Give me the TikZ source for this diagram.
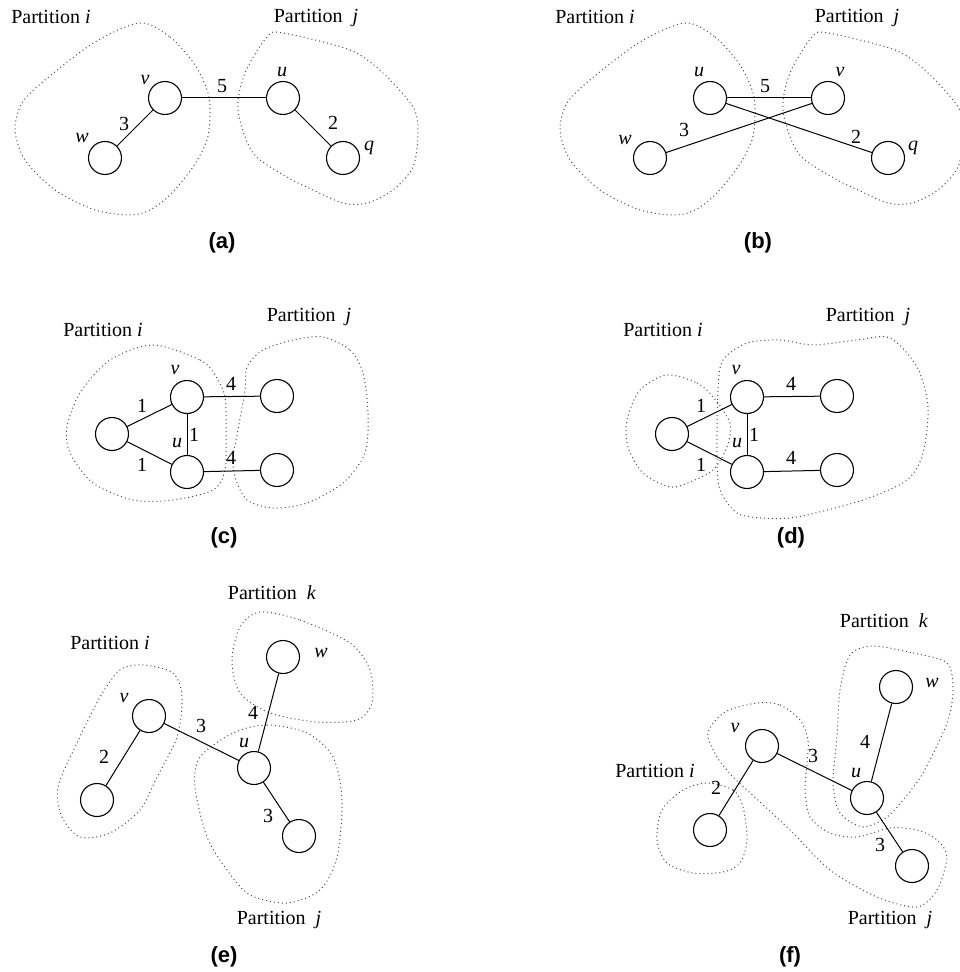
\documentclass[tikz,border=0pt]{standalone}
\usepackage{fontspec}
\setmainfont{Liberation Serif}
\newfontfamily\capfont{Liberation Sans}

\begin{document}
\begin{tikzpicture}[x=0.5pt,y=-0.5pt,
    vtx/.style={circle,draw,line width=0.55pt,minimum size=16.5pt,inner sep=0pt},
    lnk/.style={line width=0.5pt},
    blob/.style={draw=black!70,line width=0.5pt,dash pattern=on 0.5pt off 1.5pt},
    lbl/.style={font=\itshape,inner sep=0pt},
    wt/.style={inner sep=0pt},
    subcap/.style={font=\capfont\bfseries\fontsize{11}{13}\selectfont}]
  \useasboundingbox (0,0) rectangle (959,972);

  % (a)
  \draw[blob] plot[smooth cycle] coordinates {(140,23) (170,37) (195,65) (208,93) (210,115) (207,140) (193,167) (170,195) (150,210) (130,215) (95,210) (55,190) (25,160) (15,130) (22,103) (45,80) (95,42)};
  \draw[blob] plot[smooth cycle] coordinates {(283,33) (350,50) (383,73) (413,107) (418,133) (413,167) (393,190) (367,203) (343,203) (313,190) (287,177) (253,153) (238,110) (245,73) (267,37)};
  \node[vtx] (aV) at (165,98) {};
  \node[vtx] (aW) at (105,158) {};
  \node[vtx] (aU) at (283,98) {};
  \node[vtx] (aQ) at (343,158) {};
  \draw[lnk] (aV) -- (aU);
  \draw[lnk] (aV) -- (aW);
  \draw[lnk] (aU) -- (aQ);
  \node[lbl] (aVl) at (145,80) {v};
  \node[lbl] (aWl) at (82,138) {w};
  \node[lbl] (aUl) at (282,72) {u};
  \node[lbl] (aQl) at (369,148) {q};
  \node[wt] (aVU) at (222,86) {5};
  \node[wt] (aVW) at (124,124) {3};
  \node[wt] (aUQ) at (333,123) {2};
  \node (aPi) at (51,17) {Partition \textit{i}};
  \node (aPj) at (316,18) {Partition~~\textit{j}};
  \node[subcap] (aCap) at (222,243) {(a)};

  % (b)
  \begin{scope}[shift={(545,0)}]
    \draw[blob] plot[smooth cycle] coordinates {(140,23) (170,37) (195,65) (208,93) (210,115) (207,140) (193,167) (170,195) (150,210) (130,215) (95,210) (55,190) (25,160) (15,130) (22,103) (45,80) (95,42)};
    \draw[blob] plot[smooth cycle] coordinates {(283,33) (350,50) (383,73) (413,107) (418,133) (413,167) (393,190) (367,203) (343,203) (313,190) (287,177) (253,153) (238,110) (245,73) (267,37)};
  \end{scope}
  \node[vtx] (bU) at (710,98) {};
  \node[vtx] (bV) at (828,98) {};
  \node[vtx] (bW) at (650,158) {};
  \node[vtx] (bQ) at (888,158) {};
  \draw[lnk] (bU) -- (bV);
  \draw[lnk] (bW) -- (bV);
  \draw[lnk] (bU) -- (bQ);
  \node[lbl] (bUl) at (699,72) {u};
  \node[lbl] (bVl) at (840,72) {v};
  \node[lbl] (bWl) at (625,140) {w};
  \node[lbl] (bQl) at (913,148) {q};
  \node[wt] (bUV) at (765,86) {5};
  \node[wt] (bWV) at (684,130) {3};
  \node[wt] (bUQ) at (856,137) {2};
  \node (bPi) at (595,17) {Partition \textit{i}};
  \node (bPj) at (857,18) {Partition~~\textit{j}};
  \node[subcap] (bCap) at (758,243) {(b)};

  % (c)
  \draw[blob] plot[smooth cycle] coordinates {(153,345) (200,360) (215,375) (225,397) (226,430) (225,470) (213,490) (173,500) (133,500) (93,483) (70,453) (67,427) (80,393) (110,360)};
  \draw[blob] plot[smooth cycle] coordinates {(323,337) (350,350) (363,373) (368,413) (365,453) (343,483) (307,503) (273,508) (247,500) (235,477) (233,457) (238,430) (245,390) (247,367) (263,350) (293,340)};
  \node[vtx] (cV) at (187,397) {};
  \node[vtx] (cU) at (187,472) {};
  \node[vtx] (cL) at (112,434) {};
  \node[vtx] (cA) at (277,396) {};
  \node[vtx] (cB) at (277,470) {};
  \draw[lnk] (cL) -- (cV);
  \draw[lnk] (cL) -- (cU);
  \draw[lnk] (cV) -- (cU);
  \draw[lnk] (cV) -- (cA);
  \draw[lnk] (cU) -- (cB);
  \node[lbl] (cVl) at (175,370) {v};
  \node[lbl] (cUl) at (177,443) {u};
  \node[wt] (cLV) at (142,406) {1};
  \node[wt] (cLU) at (142,465) {1};
  \node[wt] (cVU) at (194,435) {1};
  \node[wt] (cVA) at (231,384) {4};
  \node[wt] (cUB) at (231,458) {4};
  \node (cPi) at (103,330) {Partition \textit{i}};
  \node (cPj) at (309,317) {Partition~~\textit{j}};
  \node[subcap] (cCap) at (224,538) {(c)};

  % (d)
  \draw[blob] plot[smooth cycle] coordinates {(667,375) (697,383) (713,397) (730,423) (727,447) (713,470) (690,482) (670,487) (643,473) (628,447) (627,420) (640,390)};
  \draw[blob] plot[smooth cycle] coordinates {(747,343) (780,340) (813,345) (857,340) (890,338) (917,367) (928,407) (923,453) (907,480) (863,500) (797,517) (763,518) (737,513) (720,490) (717,457) (718,390) (723,360)};
  \node[vtx] (dV) at (747,397) {};
  \node[vtx] (dU) at (747,472) {};
  \node[vtx] (dL) at (672,434) {};
  \node[vtx] (dA) at (837,396) {};
  \node[vtx] (dB) at (837,470) {};
  \draw[lnk] (dL) -- (dV);
  \draw[lnk] (dL) -- (dU);
  \draw[lnk] (dV) -- (dU);
  \draw[lnk] (dV) -- (dA);
  \draw[lnk] (dU) -- (dB);
  \node[lbl] (dVl) at (736,370) {v};
  \node[lbl] (dUl) at (737,443) {u};
  \node[wt] (dLV) at (701,406) {1};
  \node[wt] (dLU) at (701,465) {1};
  \node[wt] (dVU) at (754,435) {1};
  \node[wt] (dVA) at (791,384) {4};
  \node[wt] (dUB) at (791,458) {4};
  \node (dPi) at (663,330) {Partition \textit{i}};
  \node (dPj) at (868,317) {Partition~~\textit{j}};
  \node[subcap] (dCap) at (791,538) {(d)};

  % (e)
  \draw[blob] plot[smooth cycle] coordinates {(143,665) (173,673) (182,697) (177,737) (157,777) (140,810) (110,833) (80,837) (62,817) (58,787) (77,743) (100,697) (120,670)};
  \draw[blob] plot[smooth cycle] coordinates {(260,612) (300,620) (350,643) (370,670) (372,703) (357,720) (317,722) (270,713) (240,693) (232,660) (240,627)};
  \draw[blob] plot[smooth cycle] coordinates {(233,733) (267,725) (307,733) (333,757) (342,800) (337,857) (320,890) (287,903) (250,895) (227,870) (207,837) (195,787) (200,757)};
  \node[vtx] (eV) at (149,716) {};
  \node[vtx] (eL) at (97,800) {};
  \node[vtx] (eU) at (254,768) {};
  \node[vtx] (eW) at (283,657) {};
  \node[vtx] (eR) at (299,836) {};
  \draw[lnk] (eV) -- (eL);
  \draw[lnk] (eV) -- (eU);
  \draw[lnk] (eU) -- (eW);
  \draw[lnk] (eU) -- (eR);
  \node[lbl] (eVl) at (124,698) {v};
  \node[lbl] (eUl) at (244,743) {u};
  \node[lbl] (eWl) at (321,653) {w};
  \node[wt] (eVL) at (104,757) {2};
  \node[wt] (eVU) at (201,726) {3};
  \node[wt] (eUW) at (253,713) {4};
  \node[wt] (eUR) at (268,816) {3};
  \node (ePk) at (272,593) {Partition~~\textit{k}};
  \node (ePi) at (110,643) {Partition \textit{i}};
  \node (ePj) at (279,920) {Partition~~\textit{j}};
  \node[subcap] (eCap) at (224,957) {(e)};

  % (f)
  \draw[blob] plot[smooth cycle] coordinates {(707,783) (733,790) (743,807) (747,840) (740,863) (723,872) (693,873) (667,863) (657,840) (662,810) (683,790)};
  \draw[blob] plot[smooth cycle] coordinates {(873,646) (913,653) (947,663) (953,690) (947,723) (923,773) (903,800) (887,817) (863,827) (840,813) (833,783) (837,737) (840,690) (850,655)};
  \draw[blob] plot[smooth cycle] coordinates {(757,703) (780,705) (800,720) (808,740) (807,763) (805,790) (810,817) (830,833) (857,837) (890,828) (917,830) (937,840) (947,857) (937,890) (917,907) (877,897) (830,870) (790,830) (747,790) (733,777) (717,757) (708,733) (725,712)};
  \node[vtx] (fV) at (762,746) {};
  \node[vtx] (fL) at (710,830) {};
  \node[vtx] (fU) at (867,798) {};
  \node[vtx] (fW) at (896,687) {};
  \node[vtx] (fR) at (912,866) {};
  \draw[lnk] (fV) -- (fL);
  \draw[lnk] (fV) -- (fU);
  \draw[lnk] (fU) -- (fW);
  \draw[lnk] (fU) -- (fR);
  \node[lbl] (fVl) at (735,728) {v};
  \node[lbl] (fUl) at (856,773) {u};
  \node[lbl] (fWl) at (932,683) {w};
  \node[wt] (fVL) at (716,788) {2};
  \node[wt] (fVU) at (813,756) {3};
  \node[wt] (fUW) at (865,742) {4};
  \node[wt] (fUR) at (880,845) {3};
  \node (fPk) at (884,621) {Partition~~\textit{k}};
  \node (fPi) at (655,771) {Partition \textit{i}};
  \node (fPj) at (890,920) {Partition~~\textit{j}};
  \node[subcap] (fCap) at (790,957) {(f)};
\end{tikzpicture}
\end{document}
